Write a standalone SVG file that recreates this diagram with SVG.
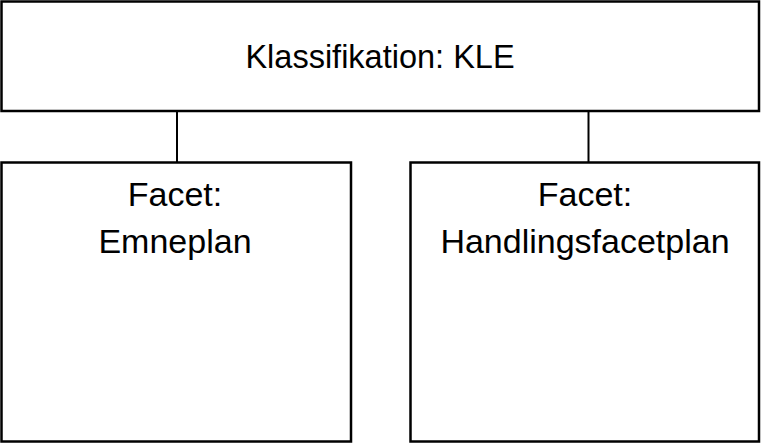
<svg xmlns="http://www.w3.org/2000/svg" width="761" height="443" viewBox="0 0 761 443">
<style>
.box{fill:#fff;stroke:#000;stroke-width:2.5}
.t{font-family:"Liberation Sans",Arial,sans-serif;fill:#000;text-anchor:middle}
.conn{stroke:#000;stroke-width:2;fill:none}
</style>
<rect width="761" height="443" fill="#fff"/>
<g id="connectors">
<line class="conn" x1="177" y1="111" x2="177" y2="162.5"/>
<line class="conn" x1="588.5" y1="111" x2="588.5" y2="162.5"/>
</g>
<g id="kle">
<rect class="box" x="1.5" y="1.5" width="757.5" height="109.5"/>
<text class="t" x="380" y="68" font-size="32.5">Klassifikation: KLE</text>
</g>
<g id="emneplan">
<rect class="box" x="1.5" y="162.5" width="349.5" height="279"/>
<text class="t" x="175" y="206" font-size="34">Facet:</text>
<text class="t" x="175" y="253" font-size="34">Emneplan</text>
</g>
<g id="handlingsfacetplan">
<rect class="box" x="410.5" y="162.5" width="348.5" height="279"/>
<text class="t" x="585" y="206" font-size="34">Facet:</text>
<text class="t" x="585" y="253" font-size="34">Handlingsfacetplan</text>
</g>
</svg>
